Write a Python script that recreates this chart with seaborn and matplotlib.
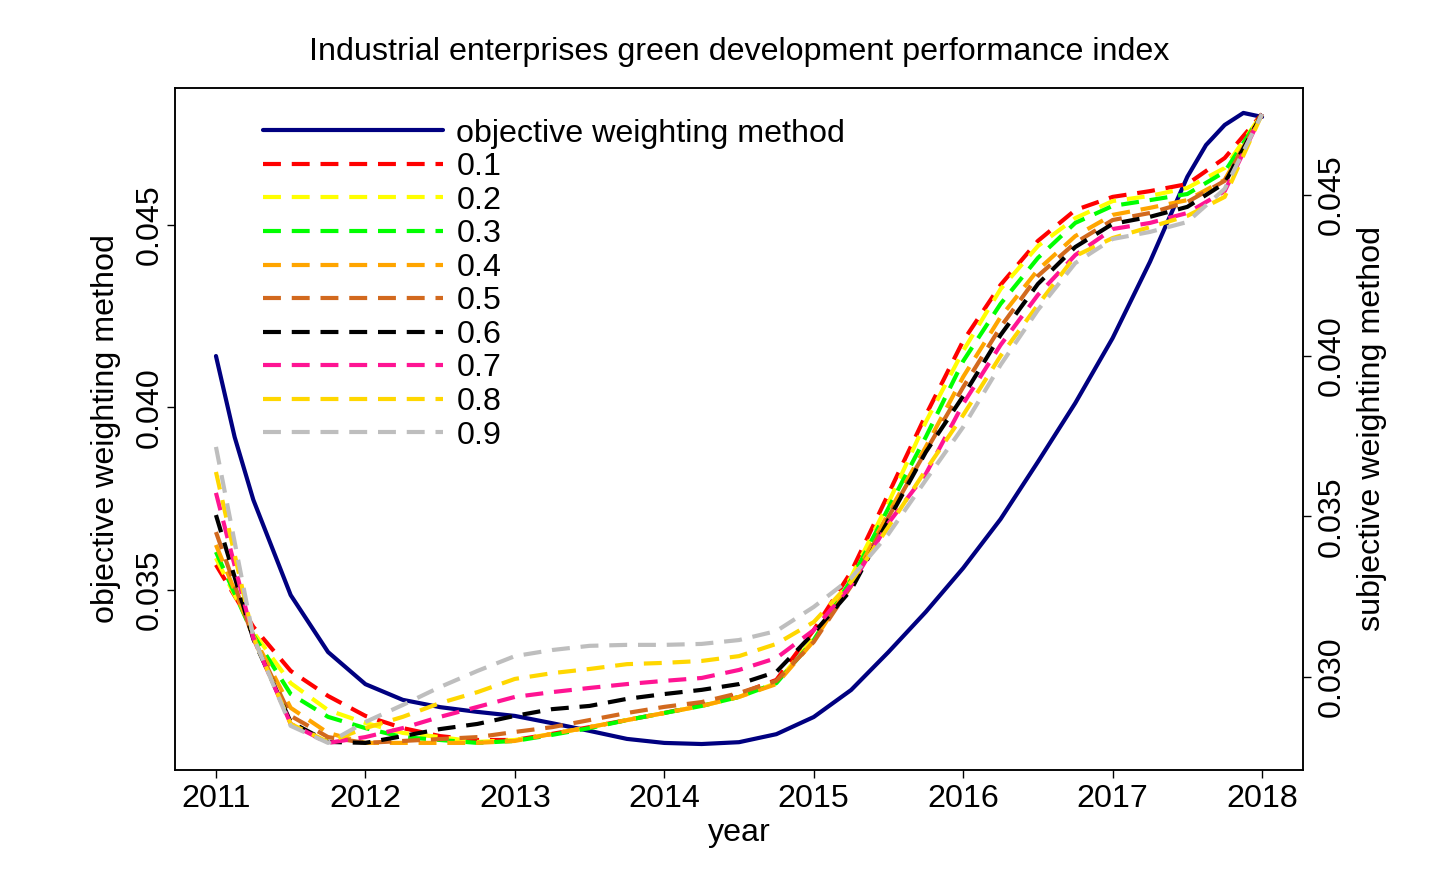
import matplotlib
matplotlib.use("Agg")
from matplotlib import pyplot as plt
from matplotlib.lines import Line2D
import pandas as pd
import seaborn as sns

# quarterly readings 2011..2018
years = [2011 + 0.25 * i for i in range(29)]

# objective weighting method (left axis), read a bit denser near the ends
obj_years = [2011.0, 2011.125, 2011.25, 2011.5, 2011.75, 2012.0, 2012.25, 2012.5, 2012.75,
             2013.0, 2013.25, 2013.5, 2013.75, 2014.0, 2014.25, 2014.5, 2014.75, 2015.0,
             2015.25, 2015.5, 2015.75, 2016.0, 2016.25, 2016.5, 2016.75, 2017.0, 2017.25,
             2017.5, 2017.625, 2017.75, 2017.875, 2018.0]
objective = [0.04141, 0.03919, 0.03747, 0.03486, 0.03330, 0.03242, 0.03199, 0.03179, 0.03166,
             0.03155, 0.03135, 0.03114, 0.03092, 0.03081, 0.03078, 0.03083, 0.03105, 0.03152,
             0.03226, 0.03330, 0.03440, 0.03560, 0.03694, 0.03851, 0.04012, 0.04190, 0.04399,
             0.04632, 0.04719, 0.04774, 0.04807, 0.04796]

# subjective weighting method, by weight (right axis)
w01 = [0.03349, 0.03156, 0.03019, 0.02941, 0.02879, 0.02841, 0.02816, 0.02804, 0.02804,
       0.02823, 0.02844, 0.02866, 0.02888, 0.02913, 0.02947, 0.02991, 0.03146, 0.03327,
       0.03570, 0.03815, 0.04046, 0.04220, 0.04357, 0.04453, 0.04494, 0.04512, 0.04534,
       0.04615, 0.04752]
w02 = [0.03370, 0.03140, 0.02981, 0.02897, 0.02857, 0.02826, 0.02813, 0.02798, 0.02804,
       0.02823, 0.02844, 0.02866, 0.02888, 0.02910, 0.02938, 0.02981, 0.03121, 0.03311,
       0.03542, 0.03794, 0.04015, 0.04207, 0.04341, 0.04428, 0.04481, 0.04497, 0.04522,
       0.04584, 0.04752]
w03 = [0.03389, 0.03131, 0.02947, 0.02876, 0.02841, 0.02813, 0.02804, 0.02795, 0.02801,
       0.02820, 0.02841, 0.02866, 0.02888, 0.02910, 0.02938, 0.02981, 0.03115, 0.03302,
       0.03526, 0.03747, 0.03983, 0.04161, 0.04304, 0.04413, 0.04466, 0.04484, 0.04503,
       0.04572, 0.04752]
w04 = [0.03411, 0.03128, 0.02904, 0.02826, 0.02795, 0.02795, 0.02795, 0.02795, 0.02801,
       0.02823, 0.02844, 0.02866, 0.02888, 0.02910, 0.02938, 0.02978, 0.03112, 0.03293,
       0.03510, 0.03716, 0.03934, 0.04120, 0.04267, 0.04372, 0.04438, 0.04460, 0.04484,
       0.04547, 0.04752]
w05 = [0.03451, 0.03121, 0.02879, 0.02813, 0.02795, 0.02801, 0.02807, 0.02813, 0.02829,
       0.02844, 0.02866, 0.02888, 0.02907, 0.02922, 0.02950, 0.02988, 0.03109, 0.03283,
       0.03498, 0.03703, 0.03902, 0.04089, 0.04248, 0.04351, 0.04422, 0.04444, 0.04478,
       0.04544, 0.04752]
w06 = [0.03504, 0.03118, 0.02860, 0.02798, 0.02795, 0.02816, 0.02838, 0.02854, 0.02879,
       0.02900, 0.02910, 0.02932, 0.02947, 0.02960, 0.02978, 0.03016, 0.03137, 0.03271,
       0.03489, 0.03700, 0.03874, 0.04064, 0.04223, 0.04338, 0.04410, 0.04432, 0.04463,
       0.04537, 0.04752]
w07 = [0.03573, 0.03121, 0.02854, 0.02795, 0.02813, 0.02841, 0.02876, 0.02907, 0.02938,
       0.02953, 0.02966, 0.02978, 0.02988, 0.02997, 0.03022, 0.03059, 0.03146, 0.03286,
       0.03479, 0.03632, 0.03850, 0.04033, 0.04189, 0.04313, 0.04394, 0.04413, 0.04444,
       0.04512, 0.04752]
w08 = [0.03638, 0.03124, 0.02854, 0.02798, 0.02841, 0.02876, 0.02919, 0.02953, 0.02994,
       0.03012, 0.03025, 0.03040, 0.03044, 0.03050, 0.03065, 0.03103, 0.03171, 0.03296,
       0.03467, 0.03644, 0.03815, 0.03999, 0.04158, 0.04310, 0.04366, 0.04400, 0.04435,
       0.04494, 0.04752]
w09 = [0.03716, 0.03124, 0.02848, 0.02795, 0.02860, 0.02913, 0.02969, 0.03019, 0.03065,
       0.03084, 0.03097, 0.03100, 0.03100, 0.03103, 0.03115, 0.03143, 0.03218, 0.03308,
       0.03445, 0.03613, 0.03778, 0.03971, 0.04142, 0.04288, 0.04363, 0.04385, 0.04416,
       0.04519, 0.04752]

weights = ["0.1", "0.2", "0.3", "0.4", "0.5", "0.6", "0.7", "0.8", "0.9"]
subjective = [w01, w02, w03, w04, w05, w06, w07, w08, w09]
colors = ["#FF0000", "#FFFF00", "#00FF00", "#FFA500", "#D2691E",
          "#000000", "#FF1493", "#FFD700", "#BEBEBE"]

sns.set_style("ticks")
plt.rcParams["font.family"] = ["Liberation Sans", "DejaVu Sans"]
plt.rcParams["axes.linewidth"] = 1.1
for k in ("text.color", "axes.labelcolor", "xtick.color", "ytick.color", "axes.edgecolor"):
    plt.rcParams[k] = "black"

fig = plt.figure(figsize=(14.4, 8.77), dpi=100)
ax = fig.add_axes([0.1215, 0.122, 0.7834, 0.7777])
ax2 = ax.twinx()

dash = (0, (4.3, 2.6))
lw = 3.0

for w, vals, c in zip(weights, subjective, colors):
    df = pd.DataFrame({"year": years, "value": vals})
    sns.lineplot(data=df, x="year", y="value", ax=ax2, color=c,
                 linewidth=lw, linestyle=dash, legend=False)

df_obj = pd.DataFrame({"year": obj_years, "value": objective})
sns.lineplot(data=df_obj, x="year", y="value", ax=ax, color="#000080",
             linewidth=lw, legend=False)

ax.set_xlim(2010.7256, 2018.2744)
ax.set_ylim(0.030068, 0.048754)
ax2.set_ylim(0.027106, 0.048330)

fs = 23.2
ax.set_xticks(range(2011, 2019))
ax.set_xticklabels([str(y) for y in range(2011, 2019)], fontsize=fs)
ax.set_yticks([0.035, 0.040, 0.045])
ax.set_yticklabels(["0.035", "0.040", "0.045"], fontsize=fs, rotation=90, va="center")
ax2.set_yticks([0.030, 0.035, 0.040, 0.045])
ax2.set_yticklabels(["0.030", "0.035", "0.040", "0.045"], fontsize=fs, rotation=90, va="center")

ax.tick_params(axis="y", direction="out", length=6, width=1.0, pad=1)
ax.tick_params(axis="x", direction="out", length=6, width=1.0, pad=4)
ax2.tick_params(direction="out", length=6, width=1.0, pad=4)
for a in (ax, ax2):
    for s in a.spines.values():
        s.set_visible(True)

ax.set_xlabel("year", fontsize=fs, labelpad=3)
ax.set_ylabel("objective weighting method", fontsize=fs, labelpad=10)
ax2.set_ylabel("subjective weighting method", fontsize=fs, labelpad=7)
ax.set_title("Industrial enterprises green development performance index",
             fontsize=fs, pad=20)

handles = [Line2D([], [], color="#000080", linewidth=lw)]
labels = ["objective weighting method"]
for w, c in zip(weights, colors):
    handles.append(Line2D([], [], color=c, linewidth=lw, linestyle=dash))
    labels.append(w)
ax2.legend(handles, labels, loc="upper left", bbox_to_anchor=(0.078, 0.955),
           frameon=False, fontsize=fs, handlelength=5.6, handletextpad=0.4,
           labelspacing=0.11, borderpad=0, borderaxespad=0)

fig.savefig("out.png", dpi=100)
